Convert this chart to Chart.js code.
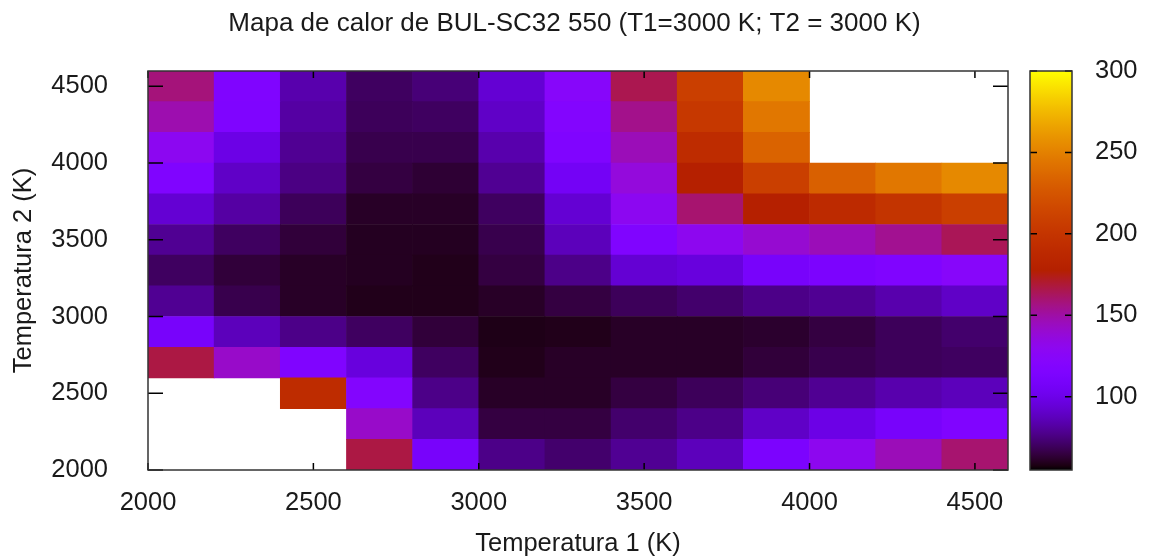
<!DOCTYPE html>
<html>
<head>
<meta charset="utf-8">
<title>Mapa de calor BUL-SC32 550</title>
<script src="https://cdn.jsdelivr.net/npm/chart.js@4.4.1/dist/chart.umd.min.js"></script>
<style>
  html, body { margin: 0; padding: 0; background: #fff; }
  canvas { display: block; }
</style>
</head>
<body>
<canvas id="mapa" width="1149" height="559"></canvas>
<script>
// inicio de cada celda (K), las celdas miden 200 K
const temp1 = [2000, 2200, 2400, 2600, 2800, 3000, 3200, 3400, 3600, 3800, 4000, 4200, 4400];
const temp2 = [2000, 2200, 2400, 2600, 2800, 3000, 3200, 3400, 3600, 3800, 4000, 4200, 4400];
const paso = 200;

// una fila por cada T2, valores por columna T1 (null = sin dato)
const fila2000 = [null, null, null, 167, 109, 77, 72, 79, 87, 113, 130, 146, 160];
const fila2200 = [null, null, null, 142, 87, 65, 65, 72, 77, 90, 99, 109, 117];
const fila2400 = [null, null, 191, 120, 77, 61, 61, 65, 69, 74, 79, 84, 87];
const fila2600 = [167, 142, 117, 96, 70, 59, 61, 61, 61, 64, 67, 69, 70];
const fila2800 = [109, 87, 77, 70, 64, 58.5, 59, 61, 61, 62, 65, 69, 72];
const fila3000 = [79, 67, 61, 59, 59, 61, 65, 69, 72, 77, 79, 84, 90];
const fila3200 = [70, 64, 61, 60, 59, 65, 77, 93, 96, 109, 113, 117, 124];
const fila3400 = [79, 70, 64, 60, 60, 67, 87, 117, 130, 140, 146, 154, 164];
const fila3600 = [93, 82, 69, 61, 61, 70, 93, 129, 160, 178, 189, 199, 209];
const fila3800 = [117, 90, 76, 65, 63, 79, 106, 137, 178, 209, 232, 245, 254];
const fila4000 = [129, 99, 79, 67, 67, 84, 117, 146, 191, 234, null, null, null];
const fila4200 = [148, 116, 82, 69, 70, 90, 120, 155, 203, 245, null, null, null];
const fila4400 = [158, 117, 84, 70, 74, 93, 124, 165, 209, 254, null, null, null];

const ticksT = [2000, 2500, 3000, 3500, 4000, 4500];
const ticksCb = [100, 150, 200, 250, 300];
const cbMin = 55;
const cbMax = 300;

const filas = [fila2000, fila2200, fila2400, fila2600, fila2800, fila3000, fila3200,
               fila3400, fila3600, fila3800, fila4000, fila4200, fila4400];

// paleta por defecto de gnuplot (rgbformulae 7,5,15)
function paleta(v) {
    const t = Math.min(1, Math.max(0, (v - cbMin) / (cbMax - cbMin)));
    const r = Math.sqrt(t);
    const g = t * t * t;
    const b = Math.max(0, Math.sin(2 * Math.PI * t));
    return `rgb(${Math.round(r * 255)},${Math.round(g * 255)},${Math.round(b * 255)})`;
}

const datasets = temp2.map((t2, j) => ({
    label: 'T2 = ' + t2,
    data: temp1
        .map((t1, i) => ({ x: t1 + paso / 2, y: [t2, t2 + paso], v: filas[j][i] }))
        .filter(p => p.v !== null),
    backgroundColor: c => c.raw ? paleta(c.raw.v) : '#000',
    borderWidth: 0,
    grouped: false,
    barPercentage: 1,
    categoryPercentage: 1,
    xAxisID: 'x',
    yAxisID: 'y'
}));

// borde, marcas hacia dentro y barra de color
const marco = {
    id: 'marco',
    afterDatasetsDraw(chart) {
        const { ctx, chartArea: a, scales } = chart;
        ctx.save();
        ctx.lineWidth = 1.5;
        ctx.strokeStyle = '#000';
        ctx.beginPath();
        ticksT.forEach(t => {
            const px = scales.x.getPixelForValue(t);
            ctx.moveTo(px, a.bottom); ctx.lineTo(px, a.bottom - 7);
            ctx.moveTo(px, a.top); ctx.lineTo(px, a.top + 7);
            const py = scales.y.getPixelForValue(t);
            ctx.moveTo(a.left, py); ctx.lineTo(a.left + 15, py);
            ctx.moveTo(a.right, py); ctx.lineTo(a.right - 15, py);
        });
        ctx.stroke();
        ctx.strokeStyle = '#333';
        ctx.strokeRect(a.left, a.top, a.right - a.left, a.bottom - a.top);

        const cb = scales.cb;
        const x0 = cb.left + 22, x1 = cb.left + 64;
        const yTop = cb.getPixelForValue(cbMax), yBot = cb.getPixelForValue(cbMin);
        const grad = ctx.createLinearGradient(0, yBot, 0, yTop);
        for (let i = 0; i <= 100; i++) {
            grad.addColorStop(i / 100, paleta(cbMin + (cbMax - cbMin) * i / 100));
        }
        ctx.fillStyle = grad;
        ctx.fillRect(x0, yTop, x1 - x0, yBot - yTop);
        ctx.strokeStyle = '#000';
        ctx.beginPath();
        ticksCb.forEach(v => {
            const py = cb.getPixelForValue(v);
            ctx.moveTo(x0, py); ctx.lineTo(x0 + 7, py);
            ctx.moveTo(x1, py); ctx.lineTo(x1 - 7, py);
        });
        ctx.stroke();
        ctx.strokeStyle = '#333';
        ctx.strokeRect(x0, yTop, x1 - x0, yBot - yTop);
        ctx.restore();
    }
};

// sin el margen extra que Chart.js reserva para media etiqueta
function sinRelleno(s) {
    s.paddingTop = 0;
    s.paddingBottom = 0;
    s.paddingLeft = 0;
    s.paddingRight = 0;
}

Chart.defaults.font.family = '"Liberation Sans", Arial, sans-serif';
Chart.defaults.font.size = 25.5;
Chart.defaults.color = '#1a1a1a';

const fontTxt = { size: 25.5, weight: 'normal' };

new Chart(document.getElementById('mapa'), {
    type: 'bar',
    data: { datasets },
    options: {
        responsive: false,
        animation: false,
        events: [],
        layout: { padding: 0 },
        plugins: {
            legend: { display: false },
            tooltip: { enabled: false },
            title: {
                display: true,
                text: 'Mapa de calor de BUL-SC32 550 (T1=3000 K; T2 = 3000 K)',
                font: { size: 26, weight: 'normal' },
                padding: { top: 8, bottom: 31.8 }
            }
        },
        scales: {
            x: {
                type: 'linear',
                position: 'bottom',
                min: 2000,
                max: 4600,
                offset: false,
                grid: { display: false, drawTicks: false, offset: false },
                border: { display: false },
                afterBuildTicks: s => { s.ticks = ticksT.map(v => ({ value: v })); },
                ticks: { padding: 18, autoSkip: false, maxRotation: 0, font: fontTxt, callback: v => String(v) },
                title: { display: true, text: 'Temperatura 1 (K)', font: fontTxt, padding: { top: 0, bottom: 0 } },
                afterFit: s => { s.height = 89; sinRelleno(s); }
            },
            y: {
                type: 'linear',
                position: 'left',
                min: 2000,
                max: 4600,
                beginAtZero: false,
                grid: { display: false, drawTicks: false },
                border: { display: false },
                afterBuildTicks: s => { s.ticks = ticksT.map(v => ({ value: v })); },
                ticks: { padding: 40, font: fontTxt, callback: v => String(v) },
                title: { display: true, text: 'Temperatura 2 (K)', font: fontTxt, padding: { top: 9, bottom: 0 } },
                afterFit: s => { s.width = 148; sinRelleno(s); }
            },
            cb: {
                type: 'linear',
                position: 'right',
                min: cbMin,
                max: cbMax,
                grid: { display: false, drawTicks: false },
                border: { display: false },
                afterBuildTicks: s => { s.ticks = ticksCb.map(v => ({ value: v })); },
                ticks: { padding: 87, font: fontTxt, callback: v => String(v) },
                afterFit: s => { s.width = 141; sinRelleno(s); }
            }
        }
    },
    plugins: [marco]
});
</script>
</body>
</html>
